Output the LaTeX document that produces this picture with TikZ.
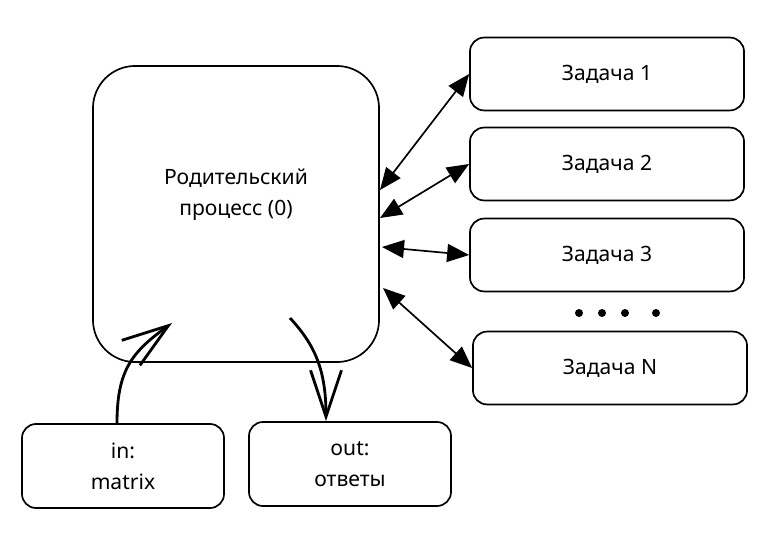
\documentclass[tikz,border=0pt]{standalone}
\usepackage{fontspec}
\setmainfont{Noto Sans}
\usetikzlibrary{arrows.meta}

\begin{document}
\begin{tikzpicture}[x=0.025cm,y=-0.025cm,line width=1.2pt,
    taskbox/.style={draw,rounded corners=10pt,minimum width=6.85cm,minimum height=1.82cm,font=\fontsize{15}{18}\selectfont},
    iobox/.style={draw,rounded corners=10pt,minimum width=5.05cm,minimum height=2.1cm,align=center,font=\fontsize{15}{22}\selectfont},
    dbl/.style={{Triangle[length=5.5mm,width=4.5mm]}-{Triangle[length=5.5mm,width=4.5mm]}},
    barb/.style={line width=2pt,-{Straight Barb[scale length=6,scale width=2]}}]
  \useasboundingbox (0,0) rectangle (769,545);

  \node[draw,rounded corners=30pt,minimum width=7.15cm,minimum height=7.4cm] (parent) at (236,214) {};
  \node[align=center,font=\fontsize{15}{22}\selectfont] (ptext) at (236,195) {Родительский\\ процесс (0)};

  \node[taskbox] (t1) at (607,74) {Задача 1};
  \node[taskbox] (t2) at (607,164) {Задача 2};
  \node[taskbox] (t3) at (607,255) {Задача 3};
  \node[taskbox] (tN) at (610,368) {Задача N};

  \node[iobox] (in) at (123,466) {in:\\ matrix};
  \node[iobox] (out) at (350,464) {out:\\ ответы};

  \coordinate (p1) at (380,190);
  \coordinate (p2) at (380,218);
  \coordinate (p3) at (382,247);
  \coordinate (p4) at (383,288);
  \coordinate (pin) at (172,323);
  \coordinate (pout) at (290,318);

  \draw[dbl] (p1) -- (t1.west);
  \draw[dbl] (p2) -- (t2.west);
  \draw[dbl] (p3) -- (t3.west);
  \draw[dbl] (p4) -- (tN.west);

  \draw[barb] (in.north -| 117,0) .. controls (117,370) and (132,352) .. (pin);
  \draw[barb] (pout) .. controls (315,345) and (326,370) .. (out.north -| 326,0);

  \foreach \x in {579,602,625,656}
    \fill (\x,313) circle (4);
\end{tikzpicture}
\end{document}
